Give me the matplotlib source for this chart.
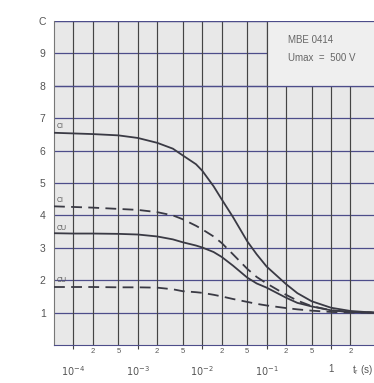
import numpy as np
import matplotlib.pyplot as plt
from matplotlib.patches import Rectangle

plt.rcParams["font.family"] = ["Liberation Sans", "DejaVu Sans"]

# time points (s) and the four read-off curves
t = [5e-5, 1e-4, 2e-4, 5e-4, 1e-3, 2e-3, 3.5e-3, 5e-3, 8e-3, 1e-2, 1.5e-2,
     2e-2, 3e-2, 5e-2, 7e-2, 0.1, 0.2, 0.3, 0.5, 1.0, 2.0, 4.6]
ci_solid = [6.55, 6.53, 6.51, 6.47, 6.39, 6.24, 6.06, 5.85, 5.58, 5.38, 4.90,
            4.50, 3.95, 3.20, 2.80, 2.42, 1.88, 1.60, 1.35, 1.15, 1.05, 1.00]
ci_dashed = [4.28, 4.26, 4.24, 4.20, 4.17, 4.10, 4.00, 3.88, 3.68, 3.57, 3.35,
             3.15, 2.80, 2.35, 2.10, 1.90, 1.55, 1.37, 1.20, 1.07, 1.02, 1.00]
cu_solid = [3.45, 3.44, 3.44, 3.43, 3.41, 3.35, 3.26, 3.17, 3.07, 3.01, 2.87,
            2.72, 2.45, 2.08, 1.90, 1.77, 1.46, 1.30, 1.19, 1.07, 1.02, 1.00]
cu_dashed = [1.79, 1.79, 1.79, 1.78, 1.78, 1.77, 1.72, 1.66, 1.63, 1.61, 1.55,
             1.50, 1.42, 1.33, 1.27, 1.22, 1.14, 1.10, 1.06, 1.02, 1.00, 1.00]

y_ticks = [1, 2, 3, 4, 5, 6, 7, 8, 9, 10]
y_labels = ["1", "2", "3", "4", "5", "6", "7", "8", "9", "C"]
major_x = [1e-4, 1e-3, 1e-2, 1e-1, 1.0]
major_labels = ["$10^{-4}$", "$10^{-3}$", "$10^{-2}$", "$10^{-1}$", "1"]
minor_x = [2e-4, 5e-4, 2e-3, 5e-3, 2e-2, 5e-2, 0.2, 0.5, 2.0]
minor_labels = ["2", "5", "2", "5", "2", "5", "2", "5", "2"]

curve_labels = ["CI", "CI", "CU", "CU"]
label_y = [6.75, 4.47, 3.6, 2.0]

fig = plt.figure(figsize=(3.74, 3.83), dpi=100)
ax = fig.add_axes([54 / 374, 1 - 345 / 383, 1 - 54 / 374, 324 / 383])
ax.set_facecolor("#e8e8e8")
ax.set_xscale("log")
ax.set_xlim(5e-5, 4.64)
ax.set_ylim(0, 10)

grid_h = "#4d4d8a"
grid_v = "#444444"
for y in y_ticks:
    ax.axhline(y, color=grid_h, lw=0.9, zorder=1)
for x in major_x + minor_x:
    ax.axvline(x, color=grid_v, lw=0.85, zorder=1)

# blank box behind the type note
ax.add_patch(Rectangle((0.1, 8), 5.0, 2.0, facecolor="#efefef",
                       edgecolor="none", zorder=1.5))
ax.axvline(0.1, ymin=0.8, ymax=1.0, color=grid_v, lw=0.85, zorder=2)
ax.axhline(8, color=grid_h, lw=0.9, zorder=2)
ax.axhline(10, color=grid_h, lw=0.9, zorder=2)

line_col = "#3a3a44"
ax.plot(t, ci_solid, color=line_col, lw=1.3, zorder=3)
ax.plot(t, ci_dashed, color=line_col, lw=1.3, dashes=(6, 3.5), zorder=3)
ax.plot(t, cu_solid, color=line_col, lw=1.3, zorder=3)
ax.plot(t, cu_dashed, color=line_col, lw=1.3, dashes=(6, 3.5), zorder=3)

for lab, yy in zip(curve_labels, label_y):
    ax.text(5.4e-5, yy, lab, fontsize=5, color="#555555", va="center",
            ha="left", zorder=4)

ax.text(0.215, 9.4, "MBE 0414", fontsize=7, color="#666666", va="center")
ax.text(0.215, 8.87, "Umax  =  500 V", fontsize=7, color="#666666", va="center")

ax.set_yticks(y_ticks)
ax.set_yticklabels(y_labels, fontsize=7.5, color="#555555")
ax.tick_params(axis="y", length=0, pad=6)

ax.set_xticks(major_x)
ax.set_xticklabels(major_labels, fontsize=7, color="#555555")
ax.set_xticks(minor_x, minor=True)
ax.set_xticklabels(minor_labels, minor=True, fontsize=5.5, color="#555555")
ax.tick_params(axis="x", which="major", length=3, pad=11, color=grid_v)
ax.tick_params(axis="x", which="minor", length=0, pad=2)

ax.text(0.965, -0.077, r"$\mathregular{t_r}$ (s)", transform=ax.transAxes,
        fontsize=7, color="#555555", ha="center", va="center")

for side in ["top", "right"]:
    ax.spines[side].set_visible(False)
ax.spines["left"].set_color("#777777")
ax.spines["bottom"].set_color(grid_h)

fig.savefig("out.png", dpi=100)
